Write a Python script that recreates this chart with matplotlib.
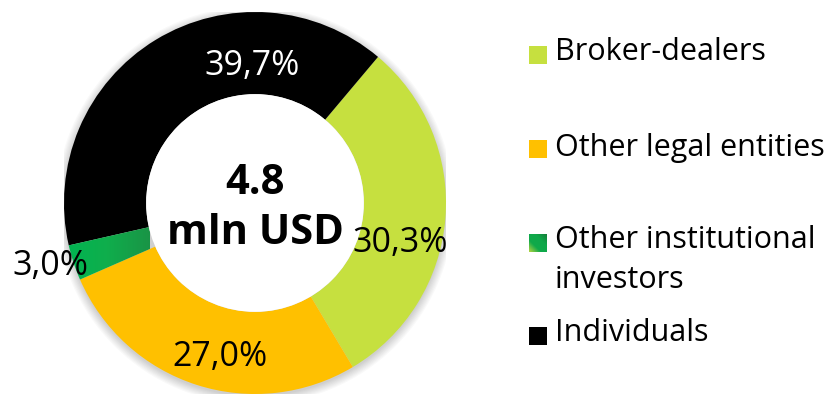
import numpy as np
import matplotlib
matplotlib.use("Agg")
import matplotlib.pyplot as plt
from matplotlib.patches import Circle, Rectangle
from matplotlib.colors import LinearSegmentedColormap

# Structure of turnover by participant type
categories = ["Broker-dealers", "Other legal entities",
              "Other institutional investors", "Individuals"]
legend_labels = ["Broker-dealers", "Other legal entities",
                 "Other institutional\ninvestors", "Individuals"]
shares = [30.3, 27.0, 3.0, 39.7]
total_label = ["4.8", "mln USD"]

colors = ["#c6e03f", "#ffc000", "#0fa84a", "#000000"]
label_colors = ["black", "black", "black", "white"]

W, H = 832, 394
fig = plt.figure(figsize=(W / 100, H / 100), dpi=100)
fig.patch.set_facecolor("white")

FONT = ["Open Sans", "DejaVu Sans"]

# Donut axes: 382 px square, centred at (255, 203) px
cx, cy, R = 255, 203, 191
ax = fig.add_axes([(cx - R) / W, (H - cy - R) / H, 2 * R / W, 2 * R / H])
ax.set_xlim(-1, 1)
ax.set_ylim(-1, 1)
ax.set_aspect("equal")
ax.axis("off")

# soft drop shadow under the ring
for i in range(8):
    ax.add_patch(Circle((0.0, -0.012), 1.0 + 0.006 * i, color="#000000",
                        alpha=0.025, lw=0, zorder=0))

width = 0.43
wedges, _ = ax.pie(shares, colors=colors, startangle=90 - 40.1,
                   counterclock=False, radius=1.0,
                   wedgeprops=dict(width=width, linewidth=0, antialiased=True))
for w in wedges:
    w.set_zorder(2)

# gradient fill for the institutional-investor segment
green = wedges[2]
gcmap = LinearSegmentedColormap.from_list("g", ["#00b552", "#0fae4c", "#1a9446"])
grad = np.linspace(0, 1, 256).reshape(1, -1)
img = ax.imshow(grad, cmap=gcmap, extent=(-1.0, -0.55, -0.5, -0.05),
                origin="lower", aspect="auto", zorder=3)
img.set_clip_path(green)
green.set_facecolor("none")

# inner hole
ax.add_patch(Circle((0, 0), 1 - width, color="white", lw=0, zorder=4))
ax.set_xlim(-1, 1)
ax.set_ylim(-1, 1)

# percentage labels (pixel positions)
label_pos = [(400, 243), (220, 357), (50, 266), (252, 66)]
for val, (px, py), c in zip(shares, label_pos, label_colors):
    ax.text((px - cx) / R, (cy - py) / R, f"{val:.1f}%".replace(".", ","),
            ha="center", va="center", fontsize=24.5, color=c, family=FONT,
            zorder=6)

ax.text(0, (cy - 183) / R, total_label[0], ha="center", va="center",
        fontsize=30, fontweight="bold", color="black", family=FONT, zorder=6)
ax.text(0, (cy - 233) / R, total_label[1], ha="center", va="center",
        fontsize=30, fontweight="bold", color="black", family=FONT, zorder=6)

# legend in pixel coordinates
lg = fig.add_axes([0, 0, 1, 1])
lg.set_xlim(0, W)
lg.set_ylim(H, 0)
lg.axis("off")
lg.patch.set_alpha(0)

sq_y = [54.5, 149, 242.5, 336]
txt_y = [52, 148, 260, 333]
sq = 18
for i, (lab, c) in enumerate(zip(legend_labels, colors)):
    x0, y0 = 529, sq_y[i] - sq / 2
    if i == 2:
        xx, yy = np.meshgrid(np.linspace(0, 1, 64), np.linspace(0, 1, 64))
        d = (xx + (1 - yy)) / 2  # 0 at bottom-left, 1 at top-right
        lcmap = LinearSegmentedColormap.from_list(
            "lg", ["#b5d541", "#10aa4a", "#0fa84a", "#157f3a"])
        lg.imshow(d, cmap=lcmap, extent=(x0, x0 + sq, y0 + sq, y0),
                  origin="upper", aspect="auto", zorder=2)
    else:
        lg.add_patch(Rectangle((x0, y0), sq, sq, color=c, lw=0, zorder=2))
    lg.text(555, txt_y[i], lab, ha="left", va="center", fontsize=22,
            color="black", family=FONT, linespacing=1.4)

lg.set_xlim(0, W)
lg.set_ylim(H, 0)

fig.savefig("out.png", dpi=100, facecolor="white")
